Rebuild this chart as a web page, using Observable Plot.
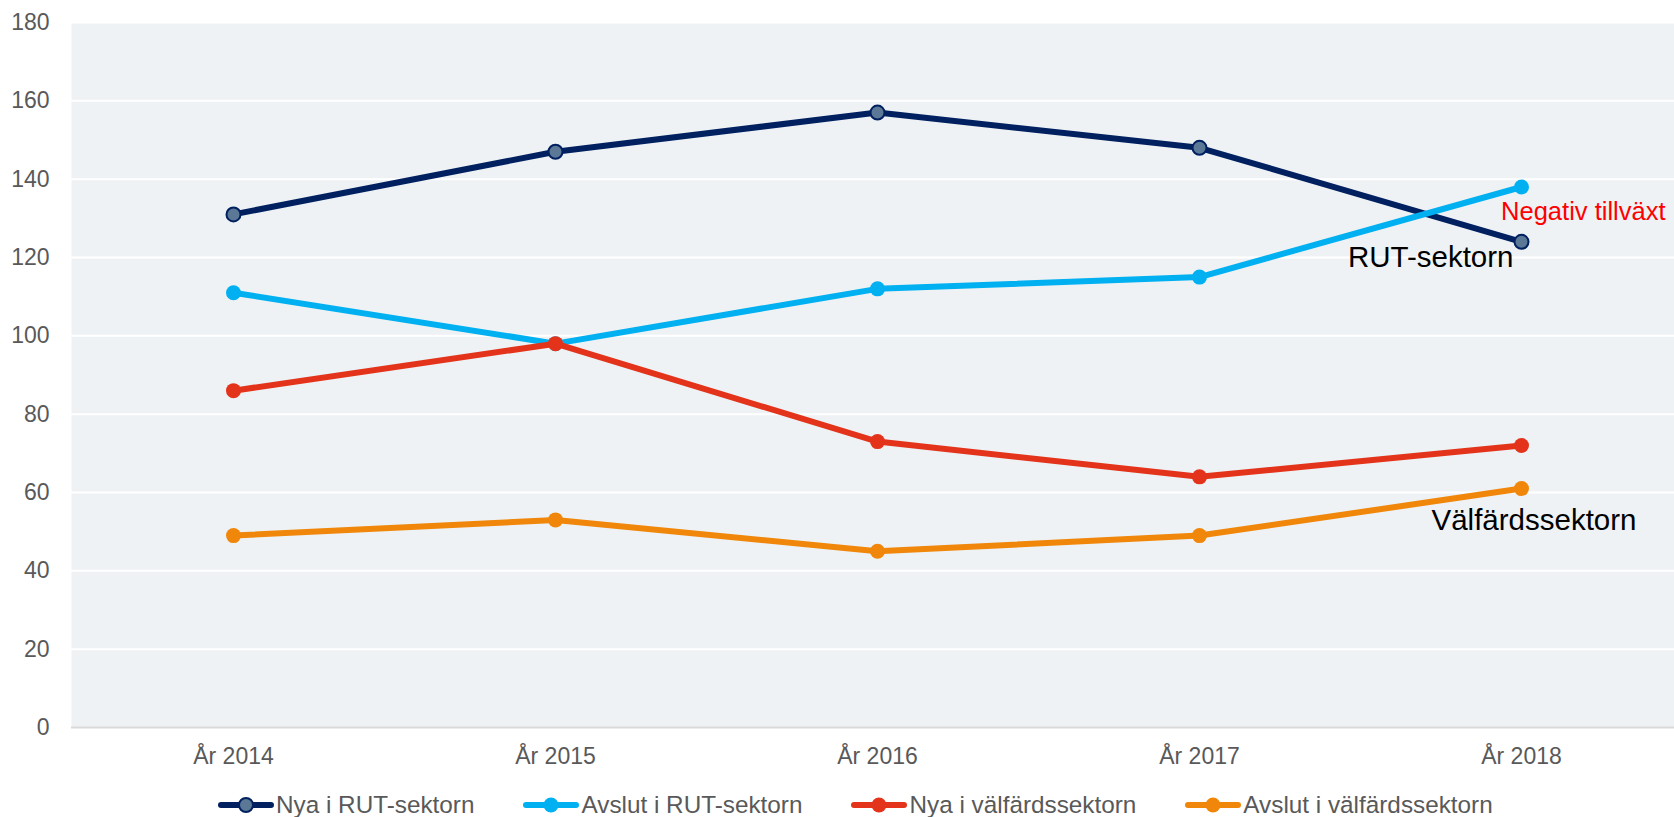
<!DOCTYPE html>
<html>
<head>
<meta charset="utf-8">
<script src="https://cdn.jsdelivr.net/npm/d3@7"></script>
<script src="https://cdn.jsdelivr.net/npm/@observablehq/plot@0.6"></script>
<style>
  html, body { margin: 0; padding: 0; background: #fff; overflow: hidden; }
  #wrap { position: relative; width: 1674px; height: 817px; overflow: hidden; }
  #chart svg { max-width: none !important; height: 780px !important; }
  #legend { position: absolute; left: 218px; top: 793px; display: flex; gap: 49px;
    font-family: "Liberation Sans", Arial, sans-serif; font-size: 24.3px; color: #595959; line-height: 24px; white-space: nowrap; }
  .item { display: flex; align-items: center; }
  .item svg { margin-right: 2px; }
</style>
</head>
<body>
<div id="wrap"><div id="chart"></div><div id="legend"></div></div>
<script>
const years = ["År 2014", "År 2015", "År 2016", "År 2017", "År 2018"];
const seriesNames = ["Nya i RUT-sektorn", "Avslut i RUT-sektorn", "Nya i välfärdssektorn", "Avslut i välfärdssektorn"];
const nyaRut = [131, 147, 157, 148, 124];
const avslutRut = [111, 98, 112, 115, 138];
const nyaValfard = [86, 98, 73, 64, 72];
const avslutValfard = [49, 53, 45, 49, 61];
const lineColors = ["#002060", "#00b0f0", "#e3341b", "#f0870a"];
const markerFills = ["#5b7896", "#00b0f0", "#e3341b", "#f0870a"];
const yTicks = [0, 20, 40, 60, 80, 100, 120, 140, 160, 180];
const annotations = [
  {text: "Negativ tillväxt", year: "År 2018", value: 131.7, color: "#ff0000", size: 25.5, dx: 144},
  {text: "RUT-sektorn", year: "År 2018", value: 120, color: "#000000", size: 29.5, dx: -8},
  {text: "Välfärdssektorn", year: "År 2018", value: 52.8, color: "#000000", size: 29.5, dx: 115}
];

const allValues = [nyaRut, avslutRut, nyaValfard, avslutValfard];
const data = [];
seriesNames.forEach((s, i) => years.forEach((y, j) => data.push({series: s, year: y, value: allValues[i][j]})));

const marks = [
  Plot.frame({fill: "#eef2f5", stroke: null}),
  Plot.gridY(yTicks.filter(d => d > 0), {stroke: "#ffffff", strokeOpacity: 1, strokeWidth: 2}),
  Plot.ruleY([0], {stroke: "#d9d9d9", strokeWidth: 2}),
  Plot.axisY(yTicks, {tickSize: 0, tickPadding: 22, fontSize: 23, fill: "#595959"}),
  Plot.axisX({tickSize: 0, tickPadding: 20, fontSize: 23, fill: "#595959"})
];
seriesNames.forEach((s, i) => {
  const d = data.filter(r => r.series === s);
  marks.push(Plot.line(d, {x: "year", y: "value", stroke: lineColors[i], strokeWidth: 6}));
  marks.push(Plot.dot(d, {x: "year", y: "value", r: i === 0 ? 7 : 7.5, fill: markerFills[i],
    stroke: i === 0 ? lineColors[0] : null, strokeWidth: 2}));
});
annotations.forEach(a => {
  marks.push(Plot.text([a], {x: "year", y: "value", text: "text", fill: a.color, fontSize: a.size,
    textAnchor: "end", dx: a.dx, fontFamily: "Liberation Sans, Arial, sans-serif"}));
});

const chart = Plot.plot({
  width: 1682,
  height: 780,
  marginLeft: 71,
  marginRight: 0,
  marginTop: 22,
  marginBottom: 53,
  style: {fontFamily: "Liberation Sans, Arial, sans-serif", fontSize: "23px", color: "#595959", background: "#ffffff"},
  x: {type: "point", domain: years, padding: 0.5, label: null},
  y: {domain: [0, 180], label: null},
  marks
});
document.getElementById("chart").appendChild(chart);

const legend = document.getElementById("legend");
seriesNames.forEach((s, i) => {
  const item = document.createElement("div");
  item.className = "item";
  item.innerHTML = `<svg width="56" height="20"><line x1="3" x2="53" y1="10" y2="10" stroke="${lineColors[i]}" stroke-width="6" stroke-linecap="round"/>` +
    `<circle cx="28" cy="10" r="${i === 0 ? 7 : 7.5}" fill="${markerFills[i]}" ${i === 0 ? `stroke="${lineColors[0]}" stroke-width="2"` : ""}/></svg><span>${s}</span>`;
  legend.appendChild(item);
});
</script>
</body>
</html>
